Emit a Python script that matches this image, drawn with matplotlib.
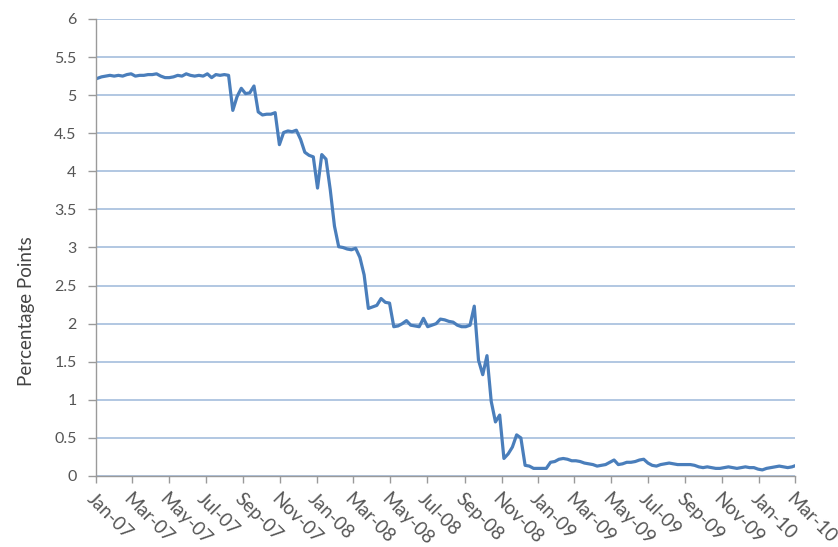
import numpy as np
import pandas as pd
import matplotlib
matplotlib.use("Agg")
import matplotlib.pyplot as plt

# weekly effective federal funds rate, weeks ending Wednesday from 3 Jan 2007
week_start = "2007-01-03"
rate = [
    5.22, 5.24, 5.25, 5.26, 5.25, 5.26, 5.25, 5.27, 5.28, 5.25,
    5.26, 5.26, 5.27, 5.27, 5.28, 5.25, 5.23, 5.23, 5.24, 5.26,
    5.25, 5.28, 5.26, 5.25, 5.26, 5.25, 5.28, 5.23, 5.27, 5.26,
    5.27, 5.26, 4.80, 4.98, 5.09, 5.02, 5.03, 5.12, 4.78, 4.74,
    4.75, 4.75, 4.77, 4.35, 4.51, 4.53, 4.52, 4.54, 4.42, 4.25,
    4.21, 4.19, 3.78, 4.22, 4.16, 3.76, 3.28, 3.01, 3.00, 2.98,
    2.97, 2.99, 2.87, 2.64, 2.20, 2.22, 2.24, 2.33, 2.28, 2.27,
    1.96, 1.97, 2.00, 2.04, 1.98, 1.97, 1.96, 2.07, 1.96, 1.98,
    2.00, 2.06, 2.05, 2.03, 2.02, 1.98, 1.96, 1.96, 1.98, 2.23,
    1.52, 1.33, 1.58, 0.98, 0.71, 0.80, 0.23, 0.29, 0.38, 0.54,
    0.50, 0.14, 0.13, 0.10, 0.10, 0.10, 0.10, 0.18, 0.19, 0.22,
    0.23, 0.22, 0.20, 0.20, 0.19, 0.17, 0.16, 0.15, 0.13, 0.14,
    0.15, 0.18, 0.21, 0.15, 0.16, 0.18, 0.18, 0.19, 0.21, 0.22,
    0.17, 0.14, 0.13, 0.15, 0.16, 0.17, 0.16, 0.15, 0.15, 0.15,
    0.15, 0.14, 0.12, 0.11, 0.12, 0.11, 0.10, 0.10, 0.11, 0.12,
    0.11, 0.10, 0.11, 0.12, 0.11, 0.11, 0.09, 0.08, 0.10, 0.11,
    0.12, 0.13, 0.12, 0.11, 0.12, 0.14,
]
dates = pd.date_range(week_start, periods=len(rate), freq="7D")

y_ticks = [0, 0.5, 1, 1.5, 2, 2.5, 3, 3.5, 4, 4.5, 5, 5.5, 6]
x_ticks = pd.date_range("2007-01-01", "2010-03-01", freq="2MS")

plt.rcParams["font.family"] = ["Lato", "DejaVu Sans"]

fig = plt.figure(figsize=(8.38, 5.47), dpi=100)
ax = fig.add_axes([0.1146, 0.1298, 0.8341, 0.8355])

ax.plot(dates, rate, color="#4a7ebb", lw=2.3, solid_joinstyle="round")

ax.set_ylim(0, 6)
ax.set_yticks(y_ticks)
ax.set_yticklabels(["{:g}".format(v) for v in y_ticks])
ax.set_xlim(x_ticks[0], x_ticks[-1])
ax.set_xticks(x_ticks)
ax.set_xticklabels([d.strftime("%b-%y") for d in x_ticks],
                   rotation=-45, ha="left", va="top", rotation_mode="anchor")

ax.yaxis.grid(True, color="#9db8da", lw=1.1)
ax.set_axisbelow(True)
for side in ("top", "right"):
    ax.spines[side].set_visible(False)
for side in ("left", "bottom"):
    ax.spines[side].set_color("#9a9a9a")
    ax.spines[side].set_linewidth(1.0)

ax.tick_params(axis="y", length=6, width=1, color="#9a9a9a",
               labelsize=11.5, labelcolor="#555555", pad=8)
ax.tick_params(axis="x", length=5, width=1, color="#9a9a9a",
               labelsize=13.5, labelcolor="#555555", pad=5)

ax.set_ylabel("Percentage Points", fontsize=13.5, color="#444444")
ax.yaxis.set_label_coords(-0.088, 0.36)

fig.savefig("out.png", dpi=100)
